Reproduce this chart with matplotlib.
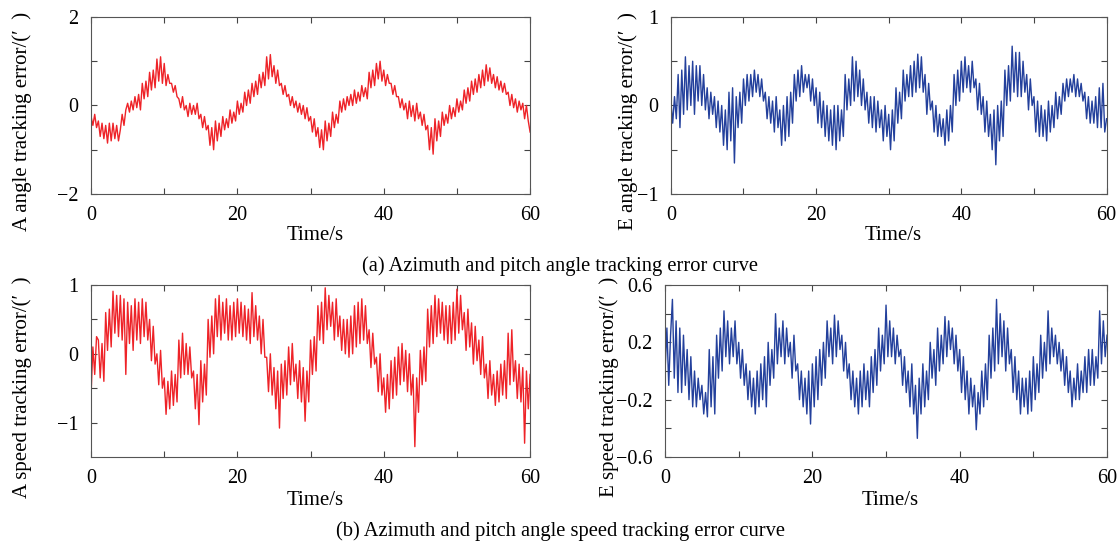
import matplotlib
matplotlib.use('Agg')
import matplotlib.pyplot as plt
import numpy as np
from matplotlib.ticker import FixedLocator

plt.rcParams['font.family'] = ['Liberation Serif', 'DejaVu Serif']
plt.rcParams['font.size'] = 14.5

# values, 4 samples per second, 0..60 s
a_angle = [
    -0.25, -0.45, -0.2, -0.5,   -0.35, -0.7, -0.4, -0.75,   -0.45, -0.85, -0.4, -0.8,
    -0.4, -0.75, -0.45, -0.8,   -0.55, -0.2, -0.45, -0.1,   0.05, -0.15, 0.1, -0.1,
    0.2, -0.05, 0.25, -0.1,     0.5, 0.15, 0.55, 0.2,       0.75, 0.35, 0.8, 0.4,
    1.05, 0.55, 1.1, 0.5,       0.95, 0.45, 0.7, 0.5,       0.5, 0.3, 0.45, 0.2,
    0.15, -0.05, 0.2, -0.1,     0.0, -0.25, 0.05, -0.2,     0.0, -0.2, 0.05, -0.3,
    -0.2, -0.5, -0.25, -0.55,   -0.45, -0.9, -0.5, -1.0,    -0.35, -0.8, -0.4, -0.7,
    -0.25, -0.55, -0.3, -0.5,   -0.1, -0.4, -0.15, -0.35,   0.1, -0.2, 0.05, -0.15,
    0.3, 0.0, 0.35, 0.05,       0.5, 0.2, 0.55, 0.25,       0.7, 0.4, 0.75, 0.45,
    1.1, 0.6, 1.15, 0.65,       0.9, 0.5, 0.8, 0.45,        0.5, 0.25, 0.45, 0.2,
    0.25, 0.0, 0.2, -0.05,      0.1, -0.15, 0.05, -0.2,     0.0, -0.3, -0.05, -0.35,
    -0.25, -0.6, -0.3, -0.7,    -0.5, -0.95, -0.55, -1.0,   -0.35, -0.8, -0.4, -0.7,
    -0.15, -0.5, -0.2, -0.4,    0.1, -0.15, 0.15, -0.1,     0.2, 0.0, 0.25, 0.0,
    0.35, 0.05, 0.3, 0.1,       0.45, 0.2, 0.4, 0.15,       0.75, 0.4, 0.8, 0.45,
    0.95, 0.6, 1.0, 0.55,       0.8, 0.45, 0.7, 0.5,        0.5, 0.25, 0.45, 0.2,
    0.2, -0.05, 0.15, -0.1,     0.05, -0.3, 0.1, -0.25,     0.0, -0.35, 0.05, -0.3,
    -0.15, -0.45, -0.2, -0.55,  -0.45, -1.0, -0.5, -1.1,    -0.3, -0.8, -0.35, -0.7,
    -0.15, -0.45, -0.2, -0.4,   0.0, -0.3, -0.05, -0.25,    0.15, -0.15, 0.1, -0.1,
    0.35, 0.05, 0.4, 0.1,       0.55, 0.25, 0.6, 0.3,       0.7, 0.4, 0.8, 0.45,
    0.92, 0.55, 0.85, 0.5,      0.7, 0.4, 0.65, 0.35,       0.55, 0.3, 0.5, 0.25,
    0.3, 0.0, 0.25, -0.05,      0.15, -0.15, 0.1, -0.1,     0.05, -0.3, 0.0, -0.35,
    -0.6,
]

e_angle = [
    0.05, -0.2, 0.1, -0.15,     0.35, -0.25, 0.4, -0.1,     0.55, -0.05, 0.45, 0.0,
    0.5, -0.1, 0.45, 0.05,      0.45, 0.0, 0.35, -0.05,     0.2, -0.15, 0.15, -0.1,
    0.1, -0.25, 0.05, -0.3,     0.0, -0.45, -0.05, -0.5,    0.15, -0.4, 0.2, -0.65,
    0.1, -0.25, 0.15, -0.2,     0.3, 0.0, 0.35, 0.05,       0.35, 0.1, 0.4, 0.15,
    0.35, 0.1, 0.3, 0.05,       0.15, -0.15, 0.1, -0.2,     0.05, -0.3, 0.1, -0.25,
    -0.05, -0.45, 0.0, -0.4,    0.1, -0.35, 0.15, -0.2,     0.35, 0.05, 0.4, 0.1,
    0.45, 0.15, 0.35, 0.2,      0.35, 0.05, 0.3, 0.0,       0.2, -0.2, 0.15, -0.25,
    0.05, -0.35, 0.0, -0.4,     -0.05, -0.45, 0.0, -0.5,    0.0, -0.4, -0.05, -0.35,
    0.35, -0.05, 0.3, 0.0,      0.55, 0.05, 0.5, 0.1,       0.4, 0.0, 0.3, -0.05,
    0.15, -0.2, 0.1, -0.25,     0.1, -0.3, 0.05, -0.25,     -0.05, -0.4, 0.0, -0.35,
    -0.1, -0.5, -0.05, -0.4,    0.2, -0.2, 0.15, -0.15,     0.4, 0.05, 0.35, 0.1,
    0.45, 0.1, 0.5, 0.15,       0.58, 0.2, 0.55, 0.15,      0.35, -0.1, 0.25, -0.05,
    0.05, -0.3, 0.0, -0.35,     -0.1, -0.35, -0.15, -0.45,  -0.05, -0.4, 0.0, -0.3,
    0.35, 0.0, 0.4, 0.05,       0.5, 0.15, 0.55, 0.2,       0.45, 0.15, 0.5, 0.2,
    0.3, -0.05, 0.25, -0.1,     0.1, -0.3, 0.05, -0.35,     -0.1, -0.5, -0.05, -0.67,
    0.0, -0.4, 0.05, -0.35,     0.4, 0.0, 0.45, 0.05,       0.67, 0.15, 0.6, 0.1,
    0.6, 0.1, 0.5, 0.15,        0.35, -0.05, 0.3, 0.0,      0.1, -0.3, 0.05, -0.35,
    0.0, -0.35, -0.05, -0.4,    0.05, -0.3, 0.0, -0.25,     0.15, -0.15, 0.1, -0.1,
    0.25, 0.05, 0.3, 0.1,       0.3, 0.15, 0.35, 0.1,       0.3, 0.1, 0.25, 0.05,
    0.15, -0.15, 0.1, -0.2,     0.05, -0.2, 0.1, -0.25,     0.2, -0.25, 0.25, -0.3,
    -0.15,
]

a_speed = [
    -0.6, 0.1, -0.3, 0.25,      0.2, -0.35, 0.15, -0.4,     0.6, 0.05, 0.65, 0.1,
    0.91, 0.3, 0.85, 0.25,      0.85, 0.2, 0.8, -0.3,       0.75, 0.15, 0.7, 0.05,
    0.8, 0.2, 0.75, 0.15,       0.8, 0.25, 0.75, 0.2,       0.5, -0.1, 0.4, -0.15,
    0.0, -0.45, 0.05, -0.5,     -0.35, -0.88, -0.4, -0.8,   -0.25, -0.75, -0.3, -0.7,
    0.2, -0.35, 0.3, -0.3,      0.15, -0.3, 0.1, -0.35,     -0.25, -0.8, -0.3, -1.03,
    -0.1, -0.7, -0.15, -0.6,    0.5, -0.05, 0.55, 0.0,      0.8, 0.25, 0.85, 0.2,
    0.75, 0.3, 0.8, 0.2,        0.7, 0.2, 0.75, 0.25,       0.8, 0.3, 0.75, 0.25,
    0.7, 0.2, 0.65, 0.15,       0.89, 0.25, 0.7, 0.2,       0.55, 0.0, 0.5, -0.05,
    -0.05, -0.55, 0.0, -0.6,    -0.2, -0.8, -0.25, -1.08,   -0.15, -0.65, -0.1, -0.6,
    0.1, -0.45, 0.15, -0.4,     -0.15, -0.65, -0.1, -0.7,   -0.2, -0.98, -0.25, -0.7,
    0.2, -0.3, 0.25, -0.25,     0.7, 0.2, 0.75, 0.15,       0.96, 0.35, 0.85, 0.4,
    0.75, 0.2, 0.8, 0.25,       0.55, 0.05, 0.5, 0.0,       0.5, -0.05, 0.55, 0.0,
    0.7, 0.1, 0.75, 0.15,       0.8, 0.2, 0.7, 0.15,        0.35, -0.2, 0.3, -0.15,
    -0.05, -0.55, 0.0, -0.6,    -0.35, -0.85, -0.3, -0.8,   -0.1, -0.65, -0.05, -0.6,
    0.1, -0.45, 0.15, -0.4,     0.05, -0.55, 0.0, -0.6,     -0.3, -1.35, -0.35, -0.85,
    0.05, -0.45, 0.1, -0.4,     0.65, 0.1, 0.7, 0.15,       0.85, 0.25, 0.8, 0.3,
    0.75, 0.2, 0.7, 0.15,       0.7, 0.15, 0.75, 0.2,       0.94, 0.3, 0.85, 0.35,
    0.6, 0.05, 0.65, 0.1,       0.45, -0.15, 0.4, -0.1,     0.2, -0.3, 0.25, -0.35,
    -0.15, -0.65, -0.1, -0.6,   -0.3, -0.75, -0.25, -0.7,   -0.15, -0.6, -0.1, -0.65,
    0.3, -0.45, 0.35, -0.4,     -0.1, -0.65, -0.15, -0.7,   -0.2, -1.3, -0.25, -0.8,
    -0.3,
]

e_speed = [
    0.0, 0.3, -0.1, 0.25,       0.5, -0.05, 0.35, -0.15,    0.3, -0.15, 0.25, -0.1,
    0.15, -0.2, 0.1, -0.25,     0.0, -0.25, -0.05, -0.2,    -0.1, -0.3, -0.15, -0.32,
    0.15, -0.25, 0.1, -0.3,     0.25, -0.05, 0.3, 0.0,      0.42, 0.1, 0.35, 0.05,
    0.3, 0.1, 0.35, 0.05,       0.2, -0.05, 0.15, -0.1,     0.05, -0.2, 0.0, -0.25,
    -0.05, -0.3, 0.0, -0.25,    0.05, -0.2, 0.1, -0.25,     0.2, -0.1, 0.15, -0.05,
    0.4, 0.05, 0.3, 0.1,        0.35, 0.05, 0.3, 0.1,       0.2, -0.05, 0.25, 0.0,
    0.05, -0.2, 0.0, -0.25,     -0.05, -0.3, 0.0, -0.37,    0.05, -0.25, 0.1, -0.2,
    0.15, -0.1, 0.2, -0.05,     0.35, 0.1, 0.3, 0.05,       0.39, 0.1, 0.35, 0.15,
    0.25, 0.0, 0.2, -0.05,      0.05, -0.2, 0.0, -0.25,     -0.05, -0.3, 0.0, -0.25,
    0.05, -0.2, 0.0, -0.25,     0.1, -0.15, 0.15, -0.1,     0.3, 0.0, 0.25, 0.05,
    0.46, 0.1, 0.35, 0.1,       0.3, 0.05, 0.25, 0.1,       0.15, -0.1, 0.1, -0.15,
    0.0, -0.25, 0.05, -0.3,     -0.1, -0.47, -0.05, -0.3,   0.05, -0.25, 0.0, -0.2,
    0.2, -0.05, 0.15, -0.1,     0.3, 0.0, 0.25, 0.05,       0.38, 0.1, 0.35, 0.15,
    0.3, 0.05, 0.25, 0.0,       0.15, -0.15, 0.1, -0.2,     0.0, -0.3, -0.05, -0.25,
    -0.1, -0.41, -0.15, -0.3,   0.0, -0.25, 0.05, -0.2,     0.25, -0.05, 0.3, 0.0,
    0.5, 0.05, 0.4, 0.1,        0.35, 0.0, 0.3, 0.05,       0.15, -0.15, 0.1, -0.2,
    0.0, -0.3, -0.05, -0.25,    -0.05, -0.3, 0.0, -0.28,    0.1, -0.2, 0.05, -0.15,
    0.25, -0.05, 0.2, 0.0,      0.42, 0.05, 0.3, 0.1,       0.25, 0.05, 0.2, 0.0,
    0.15, -0.1, 0.1, -0.15,     0.0, -0.25, -0.05, -0.2,    0.05, -0.2, 0.0, -0.15,
    0.1, -0.15, 0.15, -0.1,     0.15, -0.1, 0.1, -0.05,     0.42, 0.05, 0.35, 0.1,
    0.25,
]

x_major = [0, 20, 40, 60]
x_minor = [10, 30, 50]

RED = '#ee2328'
BLUE = '#23409c'

panels = [
    # data, color, ylabel, ylim, labelled ticks, unlabelled ticks,
    # axes rect, ylabel position (fig fraction), xlabel y (axes fraction)
    (a_angle, RED, "A angle tracking error/(\u2032  )", (-2, 2), [-2, 0, 2], [-1, 1],
     [0.0813, 0.6434, 0.392, 0.3254], (0.0196, 0.777), -0.232),
    (e_angle, BLUE, "E angle tracking error/(\u2032  )", (-1, 1), [-1, 0, 1], [-0.5, 0.5],
     [0.599, 0.6434, 0.389, 0.3254], (0.5607, 0.777), -0.232),
    (a_speed, RED, "A speed tracking error/(\u2032  )", (-1.5, 1), [-1, 0, 1], [-0.5, 0.5],
     [0.0813, 0.160, 0.392, 0.316], (0.0196, 0.289), -0.256),
    (e_speed, BLUE, "E speed tracking error/(\u2032  )", (-0.6, 0.6), [-0.6, -0.2, 0.2, 0.6],
     [-0.4, 0, 0.4], [0.5938, 0.160, 0.3946, 0.316], (0.5438, 0.289), -0.256),
]

fig = plt.figure(figsize=(11.2, 5.44), dpi=100)

for data, color, ylabel, ylim, y_major, y_minor, rect, ylab_pos, xlab_y in panels:
    ax = fig.add_axes(rect)
    t = np.linspace(0, 60, len(data))
    ax.plot(t, data, color=color, lw=1.0)
    ax.set_xlim(0, 60)
    ax.set_ylim(*ylim)
    ax.xaxis.set_major_locator(FixedLocator(x_major))
    ax.xaxis.set_minor_locator(FixedLocator(x_minor))
    ax.yaxis.set_major_locator(FixedLocator(y_major))
    ax.yaxis.set_minor_locator(FixedLocator(y_minor))
    ax.set_yticklabels([f"{v:g}".replace('-', '\u2212') for v in y_major])
    ax.tick_params(which='both', direction='in', top=True, right=True,
                   length=4, width=0.8, color='#444444', labelsize=14.5)
    ax.tick_params(axis='x', pad=9)
    ax.tick_params(axis='y', pad=9)
    for sp in ax.spines.values():
        sp.set_color('#555555')
        sp.set_linewidth(0.8)
    ax.text(0.51, xlab_y, "Time/s", transform=ax.transAxes,
            ha='center', va='center', fontsize=15)
    fig.text(ylab_pos[0], ylab_pos[1], ylabel, rotation=90,
             ha='center', va='center', fontsize=15)

fig.text(0.5, 0.511, "(a) Azimuth and pitch angle tracking error curve",
         ha='center', va='center', fontsize=14.8)
fig.text(0.5, 0.024, "(b) Azimuth and pitch angle speed tracking error curve",
         ha='center', va='center', fontsize=14.8)

fig.savefig('out.png', dpi=100)
